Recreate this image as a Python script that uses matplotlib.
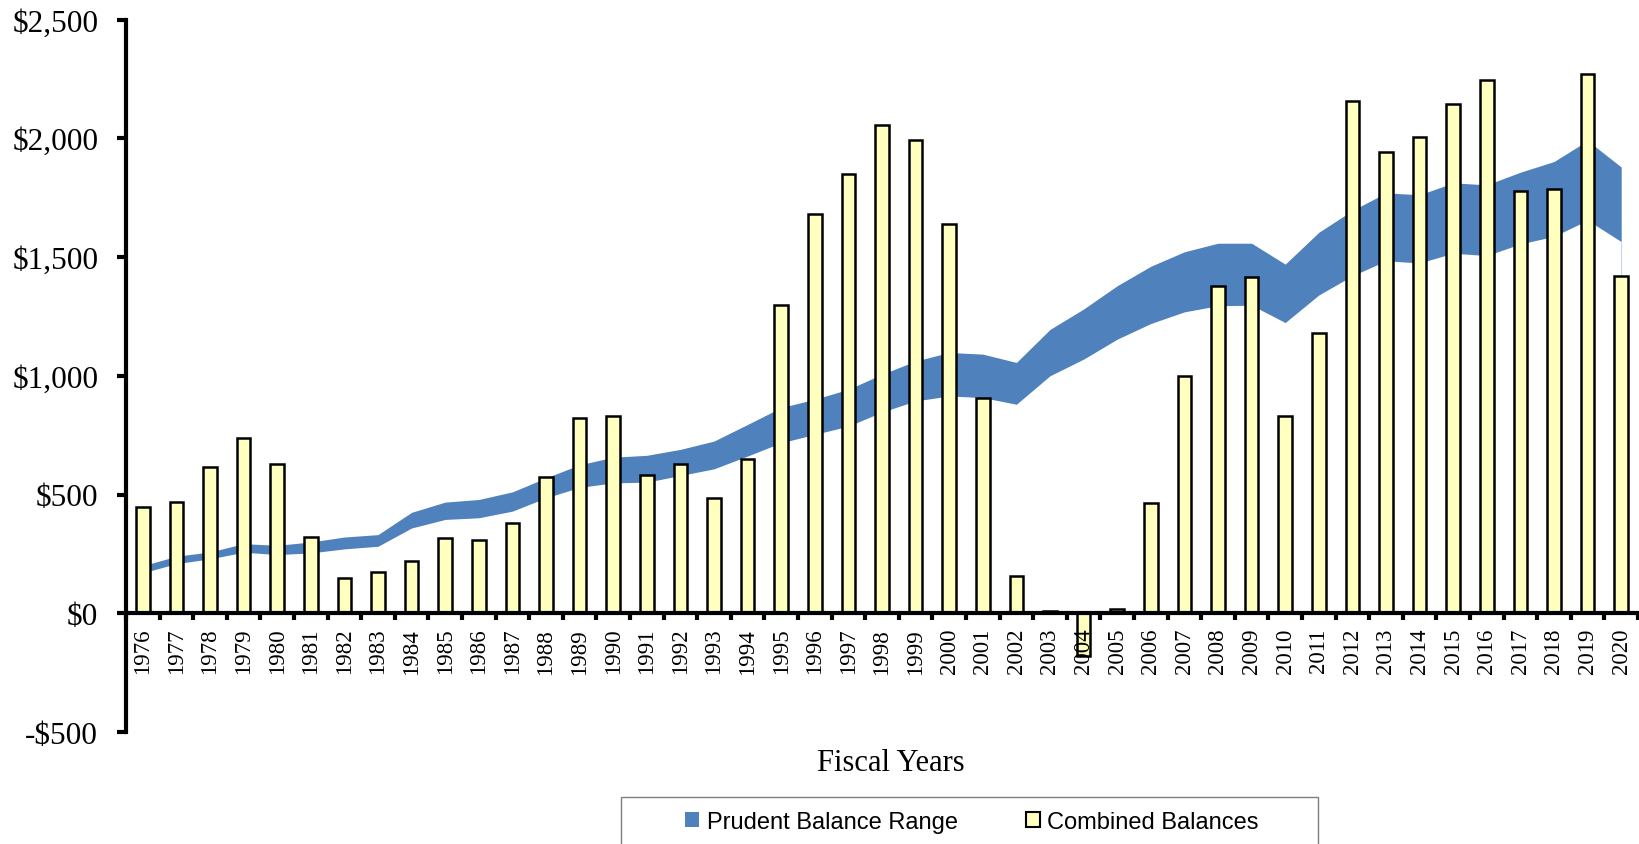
import numpy as np
import matplotlib
matplotlib.use("Agg")
import matplotlib.pyplot as plt
from matplotlib.patches import Patch, Rectangle

years = list(range(1976, 2021))

combined_balances = [449, 468, 615, 740, 628, 319, 150, 175, 219, 316,
                     309, 382, 573, 822, 832, 584, 629, 487, 648, 1297,
                     1681, 1848, 2056, 1993, 1639, 906, 158, 8, -180, 19,
                     466, 1000, 1379, 1417, 830, 1179, 2157, 1944, 2006, 2144,
                     2245, 1777, 1786, 2272, 1419]

prudent_low = [170, 209, 229, 257, 247, 254, 271, 282, 359, 395,
               402, 430, 486, 530, 549, 552, 580, 608, 662, 718,
               753, 788, 847, 894, 915, 908, 880, 1000, 1070, 1154,
               1220, 1269, 1295, 1297, 1224, 1340, 1421, 1484, 1475, 1516,
               1506, 1555, 1587, 1655, 1565]

prudent_high = [200, 240, 258, 293, 286, 300, 321, 331, 425, 468,
                479, 511, 570, 625, 657, 665, 690, 725, 795, 866,
                901, 943, 1006, 1062, 1098, 1091, 1056, 1195, 1281, 1379,
                1461, 1522, 1558, 1558, 1470, 1604, 1696, 1770, 1762, 1812,
                1804, 1857, 1902, 1990, 1879]

y_ticks = [-500, 0, 500, 1000, 1500, 2000, 2500]
y_ticklabels = ["-$500", "$0", "$500", "$1,000", "$1,500", "$2,000", "$2,500"]

BAND_COLOR = "#4F81BD"
BAR_COLOR = "#FFFFC0"
SERIF = "Liberation Serif"
SANS = "Liberation Sans"

W, H = 1639, 845
fig = plt.figure(figsize=(W / 100, H / 100), dpi=100)
ax = fig.add_axes([126 / W, 1 - 733 / H, 1512 / W, (733 - 20.5) / H])

x = np.arange(len(years))
ax.fill_between(x, prudent_low, prudent_high, color=BAND_COLOR, lw=0, zorder=1)
ax.vlines(x[-1], 0, prudent_low[-1], color="#c8d3e3", lw=0.8, zorder=1)
ax.bar(x, combined_balances, width=0.4, color=BAR_COLOR, edgecolor="black",
       linewidth=1.8, zorder=2)

ax.set_axisbelow(False)
ax.set_xlim(-0.5, len(years) - 0.5)
ax.set_ylim(-500, 2500)

for s in ["top", "right"]:
    ax.spines[s].set_visible(False)
ax.spines["bottom"].set_position(("data", 0))
ax.spines["bottom"].set_linewidth(3)
ax.spines["left"].set_linewidth(3)
ax.spines["bottom"].set_zorder(3)
ax.spines["left"].set_zorder(3)

ax.set_yticks(y_ticks)
ax.set_yticklabels(y_ticklabels, fontsize=22.5, family=SERIF)
ax.tick_params(axis="y", direction="out", length=6.5, width=3, pad=13.5)

ax.set_xticks(x)
ax.set_xticklabels([str(y) for y in years], rotation=90, fontsize=16.5, family=SERIF)
ax.set_xticks(np.arange(-0.5, len(years), 1), minor=True)
ax.tick_params(axis="x", which="major", length=0, pad=10.5)
ax.tick_params(axis="x", which="minor", direction="out", length=5, width=3)

fig.text(891 / W, 1 - 764 / H, "Fiscal Years", ha="center", va="center",
         fontsize=22, family=SERIF)

handles = [Patch(facecolor=BAND_COLOR, edgecolor="none"),
           Patch(facecolor=BAR_COLOR, edgecolor="black", linewidth=1.5)]
fig.legend(handles, ["Prudent Balance Range", "Combined Balances"],
           loc="center", bbox_to_anchor=(972 / W, 1 - 823 / H), ncol=2,
           frameon=False, prop={"family": SANS, "size": 17},
           handlelength=0.6, handleheight=0.6, handletextpad=0.3,
           columnspacing=2.9)
fig.patches.append(Rectangle((621 / W, -0.05), (1318 - 621) / W, 0.05 + 1 - 798 / H,
                             transform=fig.transFigure, fill=False,
                             edgecolor="#7f7f7f", linewidth=1.0))

fig.savefig("out.png", dpi=100)
